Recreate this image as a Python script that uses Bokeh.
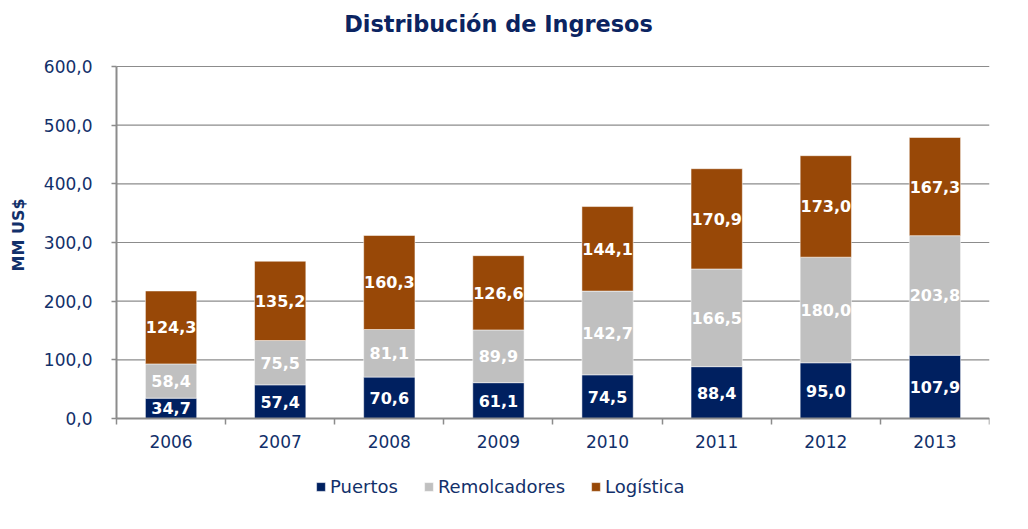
import math
from bokeh.plotting import figure
from bokeh.models import (ColumnDataSource, Range1d, FixedTicker, Legend, LegendItem, Label)
from bokeh.core.properties import value
from bokeh.embed import file_html
from bokeh.resources import INLINE

years = ["2006", "2007", "2008", "2009", "2010", "2011", "2012", "2013"]
puertos = [34.7, 57.4, 70.6, 61.1, 74.5, 88.4, 95.0, 107.9]
remolcadores = [58.4, 75.5, 81.1, 89.9, 142.7, 166.5, 180.0, 203.8]
logistica = [124.3, 135.2, 160.3, 126.6, 144.1, 170.9, 173.0, 167.3]
series_names = ["Puertos", "Remolcadores", "Logística"]
y_ticks = [0, 100, 200, 300, 400, 500, 600]
chart_title = "Distribución de Ingresos"
y_title = "MM US$"

colors = ["#002060", "#C0C0C0", "#984807"]
FONT = "DejaVu Sans"
NAVY = "#12306A"
GRID = "#8C8C8C"

def fmt(v):
    return f"{v:.1f}".replace(".", ",")

n = len(years)
xs = [i + 0.5 for i in range(n)]

# The frame covers the whole chart; axes are pinned at x=0 / y=0 so that
# title, axis labels and legend all live inside it.
p = figure(frame_width=989, frame_height=502, output_backend="svg", toolbar_location=None,
           x_range=Range1d(-1.063, n), y_range=Range1d(-156.8, 698.9),
           min_border_left=0, min_border_right=30, min_border_top=8, min_border_bottom=0)
p.outline_line_color = None
p.background_fill_color = "white"
p.border_fill_color = "white"
p.xgrid.visible = False
p.ygrid.visible = False

# gridlines between the axes
p.segment(x0=[0] * len(y_ticks), x1=[n] * len(y_ticks), y0=y_ticks, y1=y_ticks,
          line_color=GRID, line_width=1.2, level="underlay")

series = [puertos, remolcadores, logistica]
bottoms = [0.0] * n
renderers = []
label_x, label_y, label_t = [], [], []
for vals, col in zip(series, colors):
    tops = [b + v for b, v in zip(bottoms, vals)]
    src = ColumnDataSource(dict(x=xs, bottom=bottoms, top=tops))
    r = p.vbar(x="x", bottom="bottom", top="top", width=0.47, source=src,
               fill_color=col, line_color="white", line_alpha=0.5, line_width=1)
    renderers.append(r)
    for x, b, v in zip(xs, bottoms, vals):
        label_x.append(x)
        label_y.append(b + v / 2)
        label_t.append(fmt(v))
    bottoms = tops

lsrc = ColumnDataSource(dict(x=label_x, y=label_y, t=label_t))
p.text(x="x", y="y", text="t", source=lsrc, text_color="white",
       text_font=value(FONT), text_font_style="bold", text_font_size="16px",
       text_align="center", text_baseline="middle")

# title
p.add_layout(Label(x=n / 2 - 0.5, y=672, text=chart_title, text_font=FONT, text_font_size="22.4px",
                   text_font_style="bold", text_color="#0B2461",
                   text_align="center", text_baseline="alphabetic"))

# y axis title
p.add_layout(Label(x=-0.898, y=313, text=y_title, angle=math.pi / 2, text_font=FONT,
                   text_font_size="16px", text_font_style="bold", text_color=NAVY,
                   text_align="center", text_baseline="middle"))

# axes
xa = p.xaxis[0]
xa.fixed_location = 0
xa.bounds = (0, n)
xa.ticker = FixedTicker(ticks=xs, minor_ticks=list(range(n + 1)))
xa.major_label_overrides = {x: y for x, y in zip(xs, years)}
xa.major_tick_out = 0
xa.major_tick_in = 0
xa.minor_tick_out = 6
xa.minor_tick_in = 0
xa.minor_tick_line_color = GRID
xa.minor_tick_line_width = 1.5
xa.axis_line_color = GRID
xa.axis_line_width = 2
xa.major_label_text_font = FONT
xa.major_label_text_font_size = "17px"
xa.major_label_text_color = NAVY
xa.major_label_standoff = 10

ya = p.yaxis[0]
ya.fixed_location = 0
ya.bounds = (0, 600)
ya.ticker = FixedTicker(ticks=y_ticks, minor_ticks=[])
ya.major_label_overrides = {t: fmt(t) for t in y_ticks}
ya.major_tick_out = 5
ya.major_tick_in = 0
ya.major_tick_line_color = GRID
ya.major_tick_line_width = 1.5
ya.axis_line_color = GRID
ya.axis_line_width = 2
ya.major_label_text_font = FONT
ya.major_label_text_font_size = "17px"
ya.major_label_text_color = NAVY
ya.major_label_standoff = 19

legend = Legend(items=[LegendItem(label=s, renderers=[r]) for s, r in zip(series_names, renderers)],
                orientation="horizontal", location=(315, 13),
                glyph_width=11, glyph_height=11, label_standoff=4, spacing=25,
                label_text_font=FONT, label_text_font_size="18px", label_text_color=NAVY,
                border_line_color=None, background_fill_alpha=0, padding=0, margin=0)
p.add_layout(legend, "center")

open("out.html", "w").write(file_html(p, INLINE))
